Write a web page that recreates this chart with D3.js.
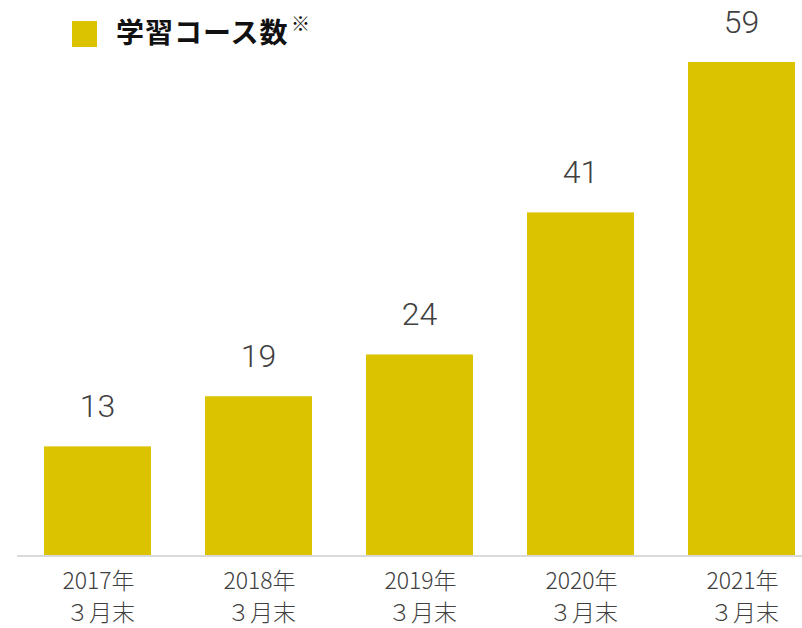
<!DOCTYPE html>
<html>
<head>
<meta charset="utf-8">
<script src="https://cdn.jsdelivr.net/npm/d3@7"></script>
<style>
  html, body { margin: 0; padding: 0; background: #fff; }
  svg { display: block; }
</style>
</head>
<body>
<svg id="chart" width="802" height="628"></svg>
<script>
const categories = ["2017年", "2018年", "2019年", "2020年", "2021年"];
const subLabels = ["３月末", "３月末", "３月末", "３月末", "３月末"];
const courseCounts = [13, 19, 24, 41, 59];
const legendLabel = "学習コース数";
const legendNote = "※";

const barColor = "#DBC300";
const textColor = "#404040";

const svg = d3.select("#chart");

const x = d3.scaleBand()
  .domain(categories)
  .range([17, 822])
  .paddingInner(54 / 161)
  .paddingOuter(27 / 161);

const y = d3.scaleLinear()
  .domain([0, 59])
  .range([555, 62]);

// bars
svg.append("g")
  .selectAll("rect")
  .data(courseCounts)
  .join("rect")
  .attr("x", (d, i) => x(categories[i]))
  .attr("y", d => y(d))
  .attr("width", x.bandwidth())
  .attr("height", d => y(0) - y(d))
  .attr("fill", barColor);

// baseline axis
const xAxis = d3.axisBottom(x).tickSize(0).tickFormat("");
const axisG = svg.append("g")
  .attr("transform", `translate(0,${y(0) + 1})`)
  .call(xAxis);
axisG.select(".domain")
  .attr("d", `M17,0H802`)
  .attr("stroke", "#d9d9d9")
  .attr("stroke-width", 2);

// value labels
svg.append("g")
  .selectAll("text")
  .data(courseCounts)
  .join("text")
  .attr("x", (d, i) => x(categories[i]) + x.bandwidth() / 2)
  .attr("y", d => y(d) - 29)
  .attr("text-anchor", "middle")
  .attr("font-family", "Roboto, 'Noto Sans', sans-serif")
  .attr("font-weight", 300)
  .attr("font-size", 32)
  .attr("fill", textColor)
  .text(d => d);

// category labels (two lines)
const labelFont = "'Noto Sans CJK JP', sans-serif";
svg.append("g")
  .selectAll("text")
  .data(categories)
  .join("text")
  .attr("x", d => x(d) + x.bandwidth() / 2 + 1)
  .attr("y", 589)
  .attr("text-anchor", "middle")
  .attr("font-family", labelFont)
  .attr("font-weight", 300)
  .attr("font-size", 23)
  .attr("fill", textColor)
  .text(d => d);
svg.append("g")
  .selectAll("text")
  .data(subLabels)
  .join("text")
  .attr("x", (d, i) => x(categories[i]) + x.bandwidth() / 2 + 3)
  .attr("y", 621)
  .attr("text-anchor", "middle")
  .attr("font-family", labelFont)
  .attr("font-weight", 300)
  .attr("font-size", 23)
  .attr("fill", textColor)
  .text(d => d);

// legend
const legend = svg.append("g");
legend.append("rect")
  .attr("x", 72).attr("y", 21)
  .attr("width", 25).attr("height", 26)
  .attr("fill", barColor);
legend.append("text")
  .attr("x", 116).attr("y", 43)
  .attr("font-family", "'Noto Sans CJK JP', sans-serif")
  .attr("font-weight", 700)
  .attr("font-size", 28)
  .attr("letter-spacing", 1)
  .attr("fill", "#111")
  .text(legendLabel);
legend.append("text")
  .attr("x", 291).attr("y", 31)
  .attr("font-family", "'Noto Sans CJK JP', sans-serif")
  .attr("font-weight", 400)
  .attr("font-size", 19)
  .attr("fill", "#111")
  .text(legendNote);
</script>
</body>
</html>
